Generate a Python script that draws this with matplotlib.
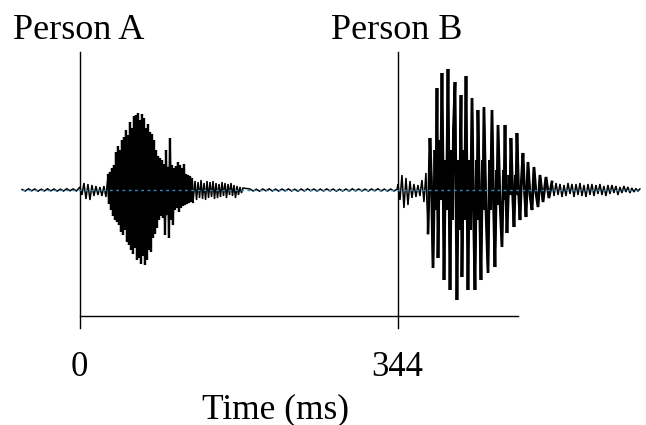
import numpy as np
import matplotlib
matplotlib.use("Agg")
import matplotlib.pyplot as plt

# ---- data (time in ms, amplitude in arbitrary units) ----
# uniformly sampled segments: (start ms, sample step ms, values)
pre_start, pre_step = -62.7, 3.46
pre_vals = [0.5, -1, 1.2, -0.8, 1, -1.2, 0.8, -1, 1.2, -0.9, 1, -1.1, 0.9, -1, 1.3, -0.8, 1.1, -1]

onsetA_start, onsetA_step = 0.0, 2.16
onsetA_vals = [3, -5, 7, -9, 6, -10, 5, -6, 4, -5, 3, -6, 4, -7]

burstA_start, burstA_step = 30.3, 1.082
burstA_vals = [15, -14, 18, -20, 22, -26, 25, -30, 38, -32,
               44, -35, 40, -42, 50, -45, 53, -40, 60, -52,
               55, -55, 68, -60, 62, -64, 74, -58, 75, -70,
               77, -68, 70, -74, 76, -66, 72, -75, 62, -70,
               66, -60, 58, -62, 56, -48, 50, -44, 40, -38,
               34, -30, 32, -26, 30, -28, 26, -45, 40, -24]

tailA_start, tailA_step = 95.2, 1.082
tailA_vals = [22, -48, 52, -30, 25, -35, 22, -20, 24, -18,
              28, -22, 25, -18, 22, -16, 26, -15, 16, -14,
              15, -13, 14, -12, 12, -12]

decayA_start, decayA_step = 124.5, 1.62
decayA_vals = [9, -10, 8, -8, 10, -9, 7, -10, 9, -8,
               8, -7, 9, -9, 7, -8, 6, -7, 8, -6,
               7, -8, 6, -5, 7, -6, 5, -8, 4, -5,
               3, -3, 2]

silence_start, silence_step = 183.9, 3.46
silence_vals = [1, -1, 0.8, -1.2, 1, -0.8, 1.2, -1, 0.9, -1.1,
                1, -0.9, 1.1, -1, 0.8, -1.2, 1, -1, 1.2, -0.8,
                1, -1.1, 0.9, -1, 1.1, -0.9, 1, -1.2, 0.8, -1,
                1, -1.1, 1.2, -0.9, 1, -1, 0.9, -1.1, 1, -0.8,
                1.2, -1, 0.9, -1.1, 1, -1, 0.8]

onsetB_start, onsetB_step = 344.0, 2.16
onsetB_vals = [6, -10, 15, -18, 12, -15, 9, -8, 6, -7, 5, -6, 10, -12, 17]

# Person B voiced burst: extrema
burstB_t = [376.5, 378.6, 380.2, 381.9, 384.0, 385.1, 386.2, 387.3, 388.9, 390.0,
            391.6, 392.7, 393.8, 395.4, 396.5, 398.1, 399.2, 400.3, 401.9, 403.0,
            404.0, 405.7, 406.7, 407.8, 409.4, 410.5, 412.2, 413.2, 414.9, 415.9,
            417.6, 418.6, 419.7, 421.3, 422.4, 424.1, 425.7, 427.3, 428.9, 429.5,
            430.5, 432.2, 433.8, 435.4, 436.0, 437.0, 439.2, 441.4, 443.0, 444.1,
            445.7, 447.3, 448.9, 450.6, 451.1, 452.2, 454.3, 456.5, 458.1, 458.7,
            459.8, 460.8, 461.9, 464.1, 465.2, 466.2, 467.9, 469.5, 471.1, 471.7,
            472.7, 474.4, 476.0, 477.6, 479.2, 480.8, 482.5, 484.6, 486.8, 489.0,
            491.1, 493.3, 495.5, 497.6, 500.9, 504.1, 507.3, 510.6]
burstB_v = [-43, 52, 10, -78, 40, -20, 102, -68, 50, -10,
            117, 20, -90, 30, -20, 121, 10, -100, 40, -30,
            60, 108, 0, -110, 30, -40, 95, -87, 40, -30,
            114, 10, -100, 30, -40, 92, -20, -100, 30, -30,
            80, -10, -90, 30, -20, 83, -20, -83, 30, -20,
            80, -10, -77, 20, -15, 65, -10, -57, 20, -10,
            65, -5, -43, 15, -5, 52, 0, -37, 15, -5,
            57, 0, -30, 10, 37, 0, -27, 28, -5, -20,
            23, -3, -17, 15, -12, 13, -8, 8]

tailB_start, tailB_step = 512.8, 2.16
tailB_vals = [-6, 7, -5, 6, -7, 5, -6, 7, -4, 6, -7, 6, -5, 7, -6, 5, -7, 6, -5, 6,
              -6, 5, -4, 6, -5, 4, -6, 5, -4, 5, -3, 4, -5, 3, -3, 4, -2, 3, -3, 2,
              -2, 1.5, -1, 1]

marker_times = [0, 344]
marker_labels = ["Person A", "Person B"]
tick_labels = ["0", "344"]
axis_end = 474
xlabel = "Time (ms)"

# ---- assemble waveform ----
def seg(start, step, vals):
    return start + step * np.arange(len(vals)), np.asarray(vals, float)

parts = [seg(pre_start, pre_step, pre_vals),
         seg(onsetA_start, onsetA_step, onsetA_vals),
         seg(burstA_start, burstA_step, burstA_vals),
         seg(tailA_start, tailA_step, tailA_vals),
         seg(decayA_start, decayA_step, decayA_vals),
         seg(silence_start, silence_step, silence_vals),
         seg(onsetB_start, onsetB_step, onsetB_vals),
         (np.asarray(burstB_t), np.asarray(burstB_v, float)),
         seg(tailB_start, tailB_step, tailB_vals)]
t = np.concatenate([p[0] for p in parts])
v = np.concatenate([p[1] for p in parts])

# ---- figure ----
plt.rcParams['font.family'] = ['Liberation Serif', 'DejaVu Serif']
fig = plt.figure(figsize=(6.46, 4.25), dpi=100)
ax = fig.add_axes([0, 0, 1, 1])
ax.set_xlim(-86.5, 612.3)
ax.set_ylim(-235, 190)
ax.axis('off')

ax.plot(t, v, color='black', lw=1.1, zorder=2, solid_joinstyle='miter')
for ht, hv in (parts[2], parts[3]):
    ax.plot(ht, hv, color='black', lw=1.6, zorder=2, solid_joinstyle='miter')
ax.plot(parts[7][0], parts[7][1], color='black', lw=2.0, zorder=2, solid_joinstyle='miter')
ax.plot([t[0], t[-1]], [0, 0], color='#2b8cc4', lw=1.0, dashes=(2.0, 2.5), zorder=3)

for mt in marker_times:
    ax.plot([mt, mt], [138, -138], color='black', lw=1.0, zorder=1)
ax.plot([marker_times[0], axis_end], [-126, -126], color='black', lw=1.0)

for mt, lab in zip(marker_times, marker_labels):
    ax.text(mt - 1, 160, lab, ha='center', va='center', fontsize=26)
for mt, lab in zip(marker_times, tick_labels):
    ax.text(mt - 1, -177, lab, ha='center', va='center', fontsize=25)
ax.text(211, -220, xlabel, ha='center', va='center', fontsize=25.5)

fig.savefig('out.png', dpi=100)
